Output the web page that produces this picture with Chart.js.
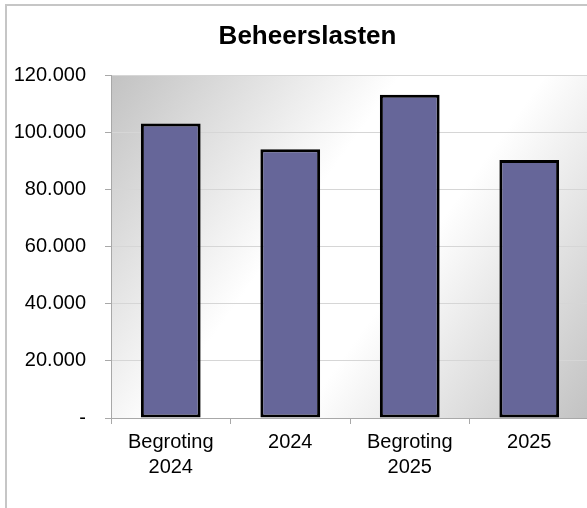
<!DOCTYPE html>
<html>
<head>
<meta charset="utf-8">
<script src="https://cdn.jsdelivr.net/npm/chart.js@4"></script>
<style>
  html, body { margin: 0; padding: 0; background: #fff; overflow: hidden; }
  #wrap { width: 615px; height: 508px; }
</style>
</head>
<body>
<div id="wrap"><canvas id="beheerChart"></canvas></div>
<script>
const categories = [['Begroting', '2024'], '2024', ['Begroting', '2025'], '2025'];
const beheerslasten = [103100, 94100, 113200, 90300];
const yTicks = { min: 0, max: 120000, step: 20000 };

function fmt(v) {
  if (v === 0) return '-';
  return String(v).replace(/\B(?=(\d{3})+(?!\d))/g, '.');
}

// grijze rand om het hele diagram
const frame = {
  id: 'frame',
  beforeDraw(chart) {
    const ctx = chart.ctx;
    ctx.save();
    ctx.strokeStyle = '#c6c6c6';
    ctx.lineWidth = 2;
    ctx.strokeRect(6, 5, chart.width + 20, chart.height + 20);
    ctx.restore();
  }
};

// verloop achter het tekengebied
const plotBg = {
  id: 'plotBg',
  beforeDatasetsDraw(chart) {
    const { ctx, chartArea: a } = chart;
    ctx.save();
    const g = ctx.createLinearGradient(a.left, a.top, a.right, a.bottom);
    g.addColorStop(0, '#c2c2c2');
    g.addColorStop(0.4, '#ffffff');
    g.addColorStop(0.6, '#ffffff');
    g.addColorStop(1, '#c2c2c2');
    ctx.globalCompositeOperation = 'destination-over';
    ctx.fillStyle = g;
    ctx.fillRect(a.left, a.top, a.right - a.left, a.bottom - a.top);
    ctx.restore();
  }
};

const font = { family: 'Arial, "Liberation Sans", sans-serif', size: 20 };

new Chart(document.getElementById('beheerChart').getContext('2d'), {
  type: 'bar',
  data: {
    labels: categories,
    datasets: [{
      label: 'Beheerslasten',
      data: beheerslasten,
      backgroundColor: '#666699',
      borderColor: '#000',
      borderWidth: 3,
      borderSkipped: false,
      categoryPercentage: 1,
      barPercentage: 0.5
    }]
  },
  options: {
    responsive: true,
    maintainAspectRatio: false,
    animation: false,
    layout: { padding: 0 },
    plugins: {
      legend: { display: false },
      tooltip: { enabled: false },
      title: {
        display: true,
        text: 'Beheerslasten',
        color: '#000',
        font: { family: font.family, size: 26, weight: 'bold', lineHeight: 1.2 },
        padding: { top: 21, bottom: 23 }
      }
    },
    scales: {
      x: {
        offset: true,
        grid: { display: true, drawOnChartArea: false, tickLength: 6, color: '#a8a8a8' },
        border: { display: true, color: '#a8a8a8', width: 1 },
        ticks: { color: '#000', font: { ...font, lineHeight: 1.25 }, padding: 6, maxRotation: 0 },
        afterFit: s => { s.height = 90; }
      },
      y: {
        min: yTicks.min,
        max: yTicks.max,
        grid: { color: '#d6d6d6', tickLength: 6, tickColor: '#a8a8a8' },
        border: { display: true, color: '#a8a8a8', width: 1 },
        ticks: { stepSize: yTicks.step, color: '#000', font: font, padding: 19, callback: v => fmt(v) },
        afterFit: s => { s.width = 111; }
      },
      yRight: {
        type: 'linear',
        position: 'right',
        display: true,
        grid: { display: false },
        border: { display: false },
        ticks: { display: false },
        afterFit: s => { s.width = 26; }
      }
    }
  },
  plugins: [frame, plotBg]
});
</script>
</body>
</html>
